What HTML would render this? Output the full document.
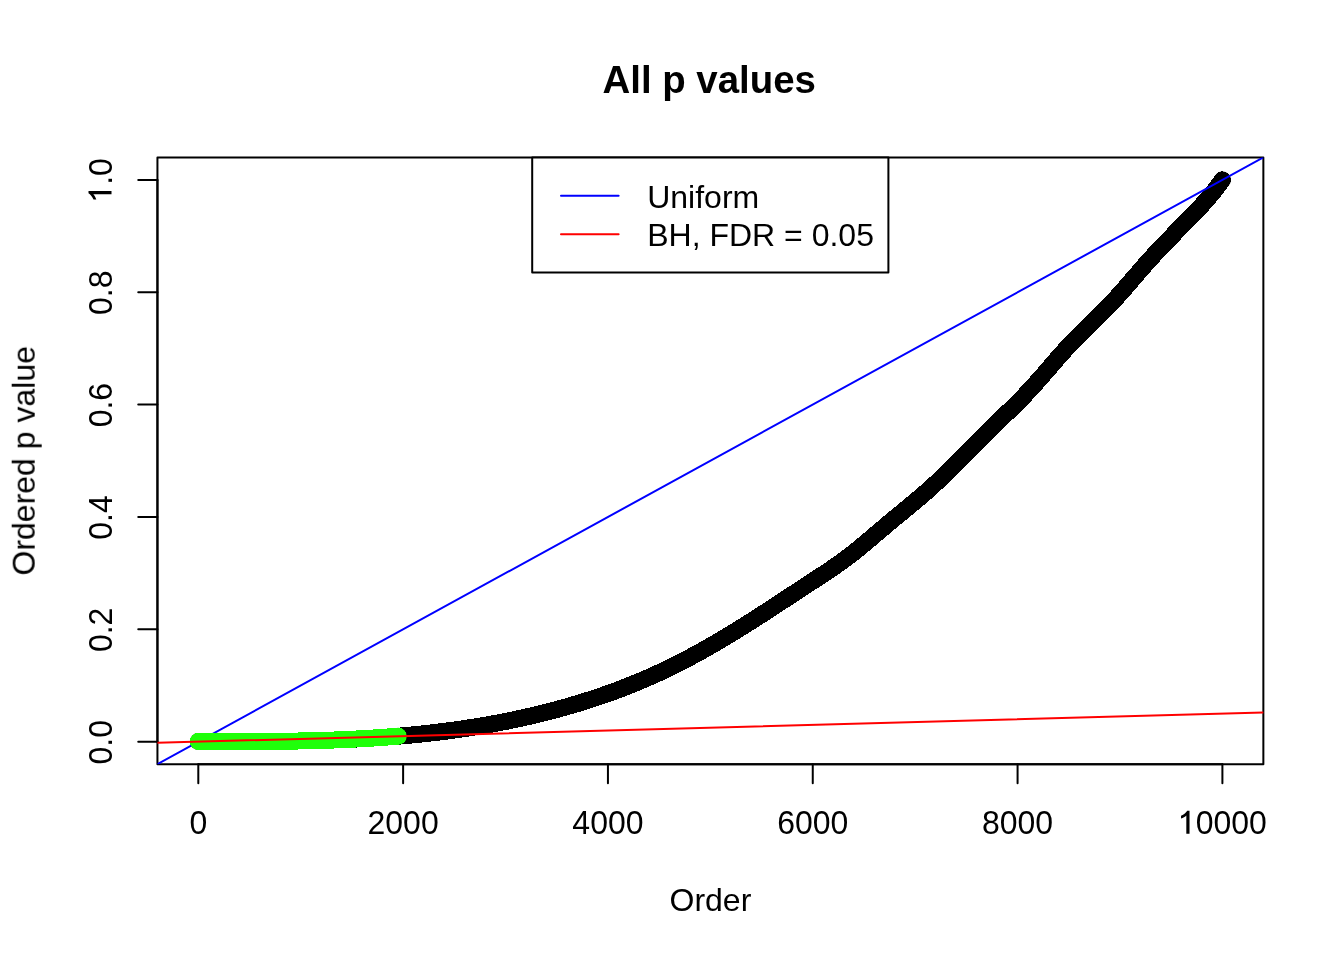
<!DOCTYPE html>
<html><head><meta charset="utf-8"><style>
html,body{margin:0;padding:0;background:#fff;}
body{width:1344px;height:960px;overflow:hidden;font-family:"Liberation Sans",sans-serif;}
svg{display:block;}
text{-webkit-font-smoothing:antialiased;}
.t{will-change:transform;}
text{fill:#000;}
</style></head><body>
<svg width="1344" height="960" viewBox="0 0 1344 960">
<rect x="0" y="0" width="1344" height="960" fill="#fff"/>
<clipPath id="c"><rect x="157.44" y="157.44" width="1105.92" height="606.72"/></clipPath>
<path d="M198.40,741.40 L200.45,741.41 L202.50,741.42 L204.56,741.43 L206.61,741.43 L208.66,741.44 L210.71,741.45 L212.76,741.46 L214.82,741.47 L216.87,741.48 L218.92,741.48 L220.97,741.49 L223.03,741.49 L225.08,741.50 L227.13,741.50 L229.18,741.51 L231.23,741.51 L233.29,741.51 L235.34,741.51 L237.39,741.51 L239.44,741.51 L241.49,741.51 L243.55,741.51 L245.60,741.51 L247.65,741.51 L249.70,741.50 L251.75,741.50 L253.81,741.49 L255.86,741.48 L257.91,741.47 L259.96,741.46 L262.02,741.45 L264.07,741.44 L266.12,741.42 L268.17,741.41 L270.22,741.39 L272.28,741.37 L274.33,741.35 L276.38,741.33 L278.43,741.31 L280.48,741.29 L282.54,741.26 L284.59,741.23 L286.64,741.21 L288.69,741.18 L290.74,741.14 L292.80,741.11 L294.85,741.07 L296.90,741.04 L298.95,741.00 L301.01,740.96 L303.06,740.91 L305.11,740.87 L307.16,740.82 L309.21,740.77 L311.27,740.72 L313.32,740.67 L315.37,740.61 L317.42,740.55 L319.47,740.49 L321.53,740.43 L323.58,740.37 L325.63,740.30 L327.68,740.23 L329.73,740.16 L331.79,740.09 L333.84,740.01 L335.89,739.93 L337.94,739.85 L340.00,739.77 L342.05,739.68 L344.10,739.59 L346.15,739.50 L348.20,739.41 L350.26,739.31 L352.31,739.21 L354.36,739.11 L356.41,739.00 L358.46,738.90 L360.52,738.78 L362.57,738.67 L364.62,738.55 L366.67,738.43 L368.72,738.31 L370.78,738.18 L372.83,738.06 L374.88,737.92 L376.93,737.79 L378.99,737.65 L381.04,737.51 L383.09,737.36 L385.14,737.21 L387.19,737.06 L389.25,736.91 L391.30,736.75 L393.35,736.59 L395.40,736.42 L397.45,736.25 L399.51,736.08 L401.56,735.90 L403.61,735.72 L405.66,735.54 L407.71,735.35 L409.77,735.16 L411.82,734.96 L413.87,734.76 L415.92,734.56 L417.98,734.36 L420.03,734.15 L422.08,733.93 L424.13,733.71 L426.18,733.49 L428.24,733.26 L430.29,733.03 L432.34,732.80 L434.39,732.56 L436.44,732.32 L438.50,732.07 L440.55,731.82 L442.60,731.56 L444.65,731.30 L446.70,731.04 L448.76,730.77 L450.81,730.49 L452.86,730.22 L454.91,729.93 L456.97,729.65 L459.02,729.36 L461.07,729.06 L463.12,728.76 L465.17,728.45 L467.23,728.14 L469.28,727.83 L471.33,727.51 L473.38,727.18 L475.43,726.85 L477.49,726.52 L479.54,726.18 L481.59,725.84 L483.64,725.49 L485.69,725.13 L487.75,724.77 L489.80,724.41 L491.85,724.04 L493.90,723.66 L495.96,723.28 L498.01,722.90 L500.06,722.51 L502.11,722.11 L504.16,721.71 L506.22,721.30 L508.27,720.89 L510.32,720.47 L512.37,720.05 L514.42,719.62 L516.48,719.19 L518.53,718.75 L520.58,718.30 L522.63,717.85 L524.68,717.39 L526.74,716.93 L528.79,716.46 L530.84,715.99 L532.89,715.51 L534.95,715.02 L537.00,714.53 L539.05,714.03 L541.10,713.53 L543.15,713.02 L545.21,712.50 L547.26,711.98 L549.31,711.45 L551.36,710.92 L553.41,710.38 L555.47,709.83 L557.52,709.28 L559.57,708.72 L561.62,708.15 L563.67,707.58 L565.73,707.00 L567.78,706.42 L569.83,705.83 L571.88,705.23 L573.94,704.63 L575.99,704.01 L578.04,703.40 L580.09,702.77 L582.14,702.14 L584.20,701.50 L586.25,700.86 L588.30,700.20 L590.35,699.54 L592.40,698.88 L594.46,698.20 L596.51,697.52 L598.56,696.83 L600.61,696.13 L602.66,695.43 L604.72,694.72 L606.77,694.00 L608.82,693.27 L610.87,692.53 L612.93,691.79 L614.98,691.03 L617.03,690.27 L619.08,689.50 L621.13,688.73 L623.19,687.94 L625.24,687.15 L627.29,686.35 L629.34,685.53 L631.39,684.71 L633.45,683.89 L635.50,683.05 L637.55,682.20 L639.60,681.34 L641.65,680.48 L643.71,679.61 L645.76,678.72 L647.81,677.83 L649.86,676.93 L651.92,676.02 L653.97,675.10 L656.02,674.16 L658.07,673.22 L660.12,672.27 L662.18,671.31 L664.23,670.34 L666.28,669.36 L668.33,668.37 L670.38,667.37 L672.44,666.36 L674.49,665.34 L676.54,664.31 L678.59,663.27 L680.64,662.22 L682.70,661.16 L684.75,660.09 L686.80,659.01 L688.85,657.92 L690.91,656.83 L692.96,655.72 L695.01,654.61 L697.06,653.49 L699.11,652.35 L701.17,651.22 L703.22,650.07 L705.27,648.91 L707.32,647.75 L709.37,646.58 L711.43,645.40 L713.48,644.21 L715.53,643.02 L717.58,641.82 L719.63,640.61 L721.69,639.39 L723.74,638.17 L725.79,636.94 L727.84,635.71 L729.89,634.47 L731.95,633.22 L734.00,631.97 L736.05,630.71 L738.10,629.44 L740.16,628.17 L742.21,626.89 L744.26,625.61 L746.31,624.32 L748.36,623.03 L750.42,621.73 L752.47,620.43 L754.52,619.12 L756.57,617.81 L758.62,616.50 L760.68,615.18 L762.73,613.85 L764.78,612.53 L766.83,611.20 L768.88,609.86 L770.94,608.53 L772.99,607.19 L775.04,605.85 L777.09,604.51 L779.15,603.16 L781.20,601.82 L783.25,600.47 L785.30,599.12 L787.35,597.77 L789.41,596.43 L791.46,595.08 L793.51,593.73 L795.56,592.38 L797.61,591.03 L799.67,589.68 L801.72,588.33 L803.77,586.99 L805.82,585.64 L807.87,584.30 L809.93,582.96 L811.98,581.62 L814.03,580.28 L816.08,578.94 L818.14,577.60 L820.19,576.26 L822.24,574.91 L824.29,573.55 L826.34,572.19 L828.40,570.81 L830.45,569.43 L832.50,568.03 L834.55,566.62 L836.60,565.19 L838.66,563.75 L840.71,562.29 L842.76,560.81 L844.81,559.31 L846.86,557.78 L848.92,556.23 L850.97,554.66 L853.02,553.06 L855.07,551.44 L857.13,549.79 L859.18,548.13 L861.23,546.45 L863.28,544.75 L865.33,543.04 L867.39,541.32 L869.44,539.59 L871.49,537.85 L873.54,536.10 L875.59,534.35 L877.65,532.60 L879.70,530.85 L881.75,529.10 L883.80,527.35 L885.85,525.61 L887.91,523.88 L889.96,522.16 L892.01,520.44 L894.06,518.74 L896.12,517.05 L898.17,515.36 L900.22,513.67 L902.27,511.99 L904.32,510.31 L906.38,508.62 L908.43,506.94 L910.48,505.24 L912.53,503.54 L914.58,501.84 L916.64,500.12 L918.69,498.38 L920.74,496.64 L922.79,494.88 L924.84,493.09 L926.90,491.29 L928.95,489.47 L931.00,487.62 L933.05,485.75 L935.11,483.86 L937.16,481.94 L939.21,480.01 L941.26,478.05 L943.31,476.08 L945.37,474.09 L947.42,472.09 L949.47,470.07 L951.52,468.04 L953.57,466.00 L955.63,463.95 L957.68,461.90 L959.73,459.83 L961.78,457.76 L963.83,455.68 L965.89,453.60 L967.94,451.52 L969.99,449.44 L972.04,447.36 L974.10,445.29 L976.15,443.21 L978.20,441.14 L980.25,439.08 L982.30,437.02 L984.36,434.98 L986.41,432.94 L988.46,430.91 L990.51,428.90 L992.56,426.90 L994.62,424.91 L996.67,422.93 L998.72,420.95 L1000.77,418.98 L1002.82,417.01 L1004.88,415.03 L1006.93,413.06 L1008.98,411.07 L1011.03,409.08 L1013.09,407.07 L1015.14,405.05 L1017.19,403.01 L1019.24,400.95 L1021.29,398.87 L1023.35,396.77 L1025.40,394.64 L1027.45,392.48 L1029.50,390.29 L1031.55,388.06 L1033.61,385.80 L1035.66,383.51 L1037.71,381.20 L1039.76,378.87 L1041.81,376.52 L1043.87,374.16 L1045.92,371.79 L1047.97,369.41 L1050.02,367.03 L1052.08,364.66 L1054.13,362.29 L1056.18,359.92 L1058.23,357.58 L1060.28,355.24 L1062.34,352.93 L1064.39,350.65 L1066.44,348.39 L1068.49,346.17 L1070.54,343.98 L1072.60,341.83 L1074.65,339.71 L1076.70,337.62 L1078.75,335.56 L1080.80,333.53 L1082.86,331.51 L1084.91,329.50 L1086.96,327.50 L1089.01,325.52 L1091.07,323.53 L1093.12,321.54 L1095.17,319.55 L1097.22,317.55 L1099.27,315.54 L1101.33,313.51 L1103.38,311.45 L1105.43,309.38 L1107.48,307.27 L1109.53,305.14 L1111.59,302.96 L1113.64,300.76 L1115.69,298.52 L1117.74,296.25 L1119.79,293.96 L1121.85,291.65 L1123.90,289.31 L1125.95,286.96 L1128.00,284.60 L1130.06,282.23 L1132.11,279.86 L1134.16,277.48 L1136.21,275.10 L1138.26,272.73 L1140.32,270.36 L1142.37,268.01 L1144.42,265.66 L1146.47,263.34 L1148.52,261.03 L1150.58,258.74 L1152.63,256.49 L1154.68,254.25 L1156.73,252.03 L1158.78,249.84 L1160.84,247.66 L1162.89,245.50 L1164.94,243.36 L1166.99,241.23 L1169.05,239.10 L1171.10,236.99 L1173.15,234.89 L1175.20,232.80 L1177.25,230.70 L1179.31,228.62 L1181.36,226.53 L1183.41,224.44 L1185.46,222.35 L1187.51,220.26 L1189.57,218.16 L1191.62,216.06 L1193.67,213.94 L1195.72,211.81 L1197.77,209.65 L1199.83,207.47 L1201.88,205.25 L1203.93,202.99 L1205.98,200.68 L1208.04,198.32 L1210.09,195.91 L1212.14,193.43 L1214.19,190.88 L1216.24,188.26 L1218.30,185.56 L1220.35,182.78 L1222.40,179.90" fill="none" stroke="#000" stroke-width="17.0" stroke-linecap="round" stroke-linejoin="round" shape-rendering="crispEdges"/>
<circle cx="198.40" cy="741.40" r="8.5" fill="#000"/>
<circle cx="1222.40" cy="179.90" r="8.5" fill="#000"/>
<rect x="157.44" y="157.44" width="1105.92" height="606.72" fill="none" stroke="#000" stroke-width="2" stroke-linecap="round" stroke-linejoin="round"/>
<line x1="198.30" y1="764.16" x2="1222.40" y2="764.16" stroke="#000" stroke-width="2" stroke-linecap="round" stroke-linejoin="round"/>
<line x1="198.30" y1="764.16" x2="198.30" y2="783.36" stroke="#000" stroke-width="2" stroke-linecap="round" stroke-linejoin="round"/>
<line x1="403.12" y1="764.16" x2="403.12" y2="783.36" stroke="#000" stroke-width="2" stroke-linecap="round" stroke-linejoin="round"/>
<line x1="607.94" y1="764.16" x2="607.94" y2="783.36" stroke="#000" stroke-width="2" stroke-linecap="round" stroke-linejoin="round"/>
<line x1="812.76" y1="764.16" x2="812.76" y2="783.36" stroke="#000" stroke-width="2" stroke-linecap="round" stroke-linejoin="round"/>
<line x1="1017.58" y1="764.16" x2="1017.58" y2="783.36" stroke="#000" stroke-width="2" stroke-linecap="round" stroke-linejoin="round"/>
<line x1="1222.40" y1="764.16" x2="1222.40" y2="783.36" stroke="#000" stroke-width="2" stroke-linecap="round" stroke-linejoin="round"/>
<path transform="translate(1177.92,833.75)" d="M8.4,0 L11.6,0 L11.6,-23.0 L9.3,-23.0 C8.3,-21.2 6.0,-19.2 3.1,-18.0 L3.1,-15.2 C5.2,-15.9 7.2,-17.0 8.4,-18.2 Z" fill="#000"/>
<line x1="157.44" y1="741.69" x2="157.44" y2="179.91" stroke="#000" stroke-width="2" stroke-linecap="round" stroke-linejoin="round"/>
<line x1="157.44" y1="741.69" x2="138.24" y2="741.69" stroke="#000" stroke-width="2" stroke-linecap="round" stroke-linejoin="round"/>
<line x1="157.44" y1="629.33" x2="138.24" y2="629.33" stroke="#000" stroke-width="2" stroke-linecap="round" stroke-linejoin="round"/>
<line x1="157.44" y1="516.98" x2="138.24" y2="516.98" stroke="#000" stroke-width="2" stroke-linecap="round" stroke-linejoin="round"/>
<line x1="157.44" y1="404.62" x2="138.24" y2="404.62" stroke="#000" stroke-width="2" stroke-linecap="round" stroke-linejoin="round"/>
<line x1="157.44" y1="292.27" x2="138.24" y2="292.27" stroke="#000" stroke-width="2" stroke-linecap="round" stroke-linejoin="round"/>
<line x1="157.44" y1="179.91" x2="138.24" y2="179.91" stroke="#000" stroke-width="2" stroke-linecap="round" stroke-linejoin="round"/>
<path transform="translate(111.5,180.41) rotate(-90) translate(-22.24,0)" d="M8.4,0 L11.6,0 L11.6,-23.0 L9.3,-23.0 C8.3,-21.2 6.0,-19.2 3.1,-18.0 L3.1,-15.2 C5.2,-15.9 7.2,-17.0 8.4,-18.2 Z" fill="#000"/>
<line clip-path="url(#c)" x1="157.44" y1="764.10" x2="1263.36" y2="157.44" stroke="#0000ff" stroke-width="2" stroke-linecap="round"/>
<path d="M198.40,741.40 L200.08,741.41 L201.76,741.41 L203.44,741.42 L205.12,741.43 L206.80,741.44 L208.47,741.44 L210.15,741.45 L211.83,741.46 L213.51,741.46 L215.19,741.47 L216.87,741.48 L218.55,741.48 L220.23,741.49 L221.91,741.49 L223.59,741.50 L225.26,741.50 L226.94,741.50 L228.62,741.51 L230.30,741.51 L231.98,741.51 L233.66,741.51 L235.34,741.51 L237.02,741.51 L238.70,741.52 L240.38,741.51 L242.05,741.51 L243.73,741.51 L245.41,741.51 L247.09,741.51 L248.77,741.50 L250.45,741.50 L252.13,741.49 L253.81,741.49 L255.49,741.48 L257.17,741.48 L258.84,741.47 L260.52,741.46 L262.20,741.45 L263.88,741.44 L265.56,741.43 L267.24,741.42 L268.92,741.40 L270.60,741.39 L272.28,741.37 L273.96,741.36 L275.63,741.34 L277.31,741.32 L278.99,741.30 L280.67,741.28 L282.35,741.26 L284.03,741.24 L285.71,741.22 L287.39,741.19 L289.07,741.17 L290.75,741.14 L292.42,741.12 L294.10,741.09 L295.78,741.06 L297.46,741.03 L299.14,740.99 L300.82,740.96 L302.50,740.92 L304.18,740.89 L305.86,740.85 L307.54,740.81 L309.21,740.77 L310.89,740.73 L312.57,740.69 L314.25,740.64 L315.93,740.60 L317.61,740.55 L319.29,740.50 L320.97,740.45 L322.65,740.40 L324.33,740.34 L326.00,740.29 L327.68,740.23 L329.36,740.18 L331.04,740.12 L332.72,740.05 L334.40,739.99 L336.08,739.93 L337.76,739.86 L339.44,739.79 L341.12,739.72 L342.79,739.65 L344.47,739.58 L346.15,739.50 L347.83,739.43 L349.51,739.35 L351.19,739.27 L352.87,739.18 L354.55,739.10 L356.23,739.01 L357.91,738.93 L359.59,738.84 L361.26,738.74 L362.94,738.65 L364.62,738.55 L366.30,738.46 L367.98,738.36 L369.66,738.25 L371.34,738.15 L373.02,738.04 L374.70,737.94 L376.38,737.83 L378.05,737.71 L379.73,737.60 L381.41,737.48 L383.09,737.36 L384.77,737.24 L386.45,737.12 L388.13,736.99 L389.81,736.86 L391.49,736.73 L393.17,736.60 L394.84,736.46 L396.52,736.33 L398.20,736.19" fill="none" stroke="#1fff0a" stroke-width="17.0" stroke-linecap="round" stroke-linejoin="round" shape-rendering="crispEdges"/>
<circle cx="198.40" cy="741.40" r="8.5" fill="#1fff0a"/>
<circle cx="398.20" cy="736.19" r="8.5" fill="#1fff0a"/>
<line clip-path="url(#c)" x1="157.44" y1="742.81" x2="1263.36" y2="712.48" stroke="#ff0000" stroke-width="2" stroke-linecap="round"/>
<rect x="532.2" y="157.44" width="356.20" height="114.96" fill="#fff" stroke="#000" stroke-width="2" stroke-linecap="round" stroke-linejoin="round"/>
<line x1="561.0" y1="195.8" x2="618.6" y2="195.8" stroke="#0000ff" stroke-width="2" stroke-linecap="round"/>
<line x1="561.0" y1="234.3" x2="618.6" y2="234.3" stroke="#ff0000" stroke-width="2" stroke-linecap="round"/>
<g class="t"><text transform="translate(198.30,833.75) scale(1,1.05)" text-anchor="middle" font-family="Liberation Sans, sans-serif" font-size="32">0</text>
<text transform="translate(403.12,833.75) scale(1,1.05)" text-anchor="middle" font-family="Liberation Sans, sans-serif" font-size="32">2000</text>
<text transform="translate(607.94,833.75) scale(1,1.05)" text-anchor="middle" font-family="Liberation Sans, sans-serif" font-size="32">4000</text>
<text transform="translate(812.76,833.75) scale(1,1.05)" text-anchor="middle" font-family="Liberation Sans, sans-serif" font-size="32">6000</text>
<text transform="translate(1017.58,833.75) scale(1,1.05)" text-anchor="middle" font-family="Liberation Sans, sans-serif" font-size="32">8000</text>
<text transform="translate(1222.40,833.75) scale(1,1.05)" x="-26.69" font-family="Liberation Sans, sans-serif" font-size="32">0000</text>
<text transform="translate(111.5,742.19) rotate(-90) scale(1,1.05)" text-anchor="middle" font-family="Liberation Sans, sans-serif" font-size="32">0.0</text>
<text transform="translate(111.5,629.83) rotate(-90) scale(1,1.05)" text-anchor="middle" font-family="Liberation Sans, sans-serif" font-size="32">0.2</text>
<text transform="translate(111.5,517.48) rotate(-90) scale(1,1.05)" text-anchor="middle" font-family="Liberation Sans, sans-serif" font-size="32">0.4</text>
<text transform="translate(111.5,405.12) rotate(-90) scale(1,1.05)" text-anchor="middle" font-family="Liberation Sans, sans-serif" font-size="32">0.6</text>
<text transform="translate(111.5,292.77) rotate(-90) scale(1,1.05)" text-anchor="middle" font-family="Liberation Sans, sans-serif" font-size="32">0.8</text>
<text transform="translate(111.5,180.41) rotate(-90) scale(1,1.05)" x="-4.45" font-family="Liberation Sans, sans-serif" font-size="32">.0</text>
<text x="709.2" y="92.9" text-anchor="middle" font-family="Liberation Sans, sans-serif" font-size="38.4" font-weight="bold">All p values</text>
<text x="710.4" y="910.9" text-anchor="middle" font-family="Liberation Sans, sans-serif" font-size="32">Order</text>
<text transform="translate(34.7,460.80) rotate(-90)" text-anchor="middle" font-family="Liberation Sans, sans-serif" font-size="32">Ordered p value</text>
<text x="647.2" y="208.0" font-family="Liberation Sans, sans-serif" font-size="32">Uniform</text>
<text x="647.2" y="246.1" font-family="Liberation Sans, sans-serif" font-size="32">BH, FDR = 0.05</text></g>
</svg>
</body></html>
